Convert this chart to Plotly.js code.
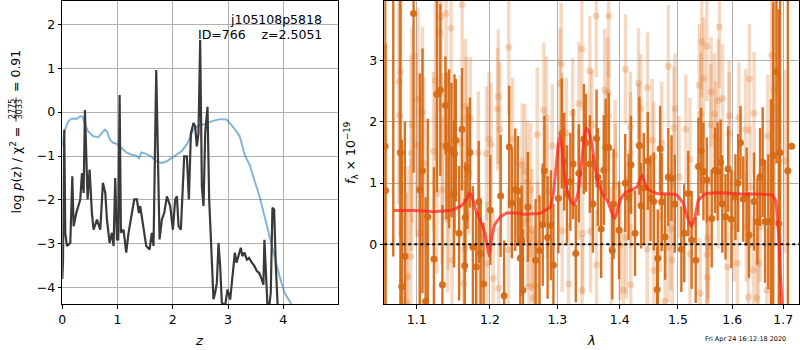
<!DOCTYPE html>
<html>
<head>
<meta charset="utf-8">
<script src="https://cdn.plot.ly/plotly-3.0.1.min.js"></script>
<style>
  html, body { margin: 0; padding: 0; background: #ffffff; }
  #chart { width: 800px; height: 350px; }
</style>
</head>
<body>
<div id="chart"></div>
<script>
// ---------------- Left panel: redshift PDF ----------------
const zGrid = [0.000, 0.012, 0.036, 0.054, 0.084, 0.145, 0.181, 0.205, 0.253, 0.325, 0.356, 0.386, 0.410, 0.434, 0.458, 0.494, 0.536, 0.566, 0.627, 0.687, 0.735, 0.778, 0.808, 0.856, 0.898, 0.928, 0.958, 0.989, 1.013, 1.037, 1.061, 1.109, 1.157, 1.199, 1.260, 1.302, 1.350, 1.386, 1.410, 1.471, 1.519, 1.579, 1.621, 1.651, 1.700, 1.760, 1.802, 1.844, 1.893, 1.953, 2.001, 2.043, 2.074, 2.104, 2.146, 2.206, 2.254, 2.291, 2.327, 2.375, 2.405, 2.435, 2.465, 2.495, 2.526, 2.556, 2.586, 2.628, 2.658, 2.682, 2.706, 2.736, 2.767, 2.797, 2.827, 2.857, 2.887, 2.948, 2.990, 3.038, 3.063, 3.092, 3.123, 3.153, 3.183, 3.230, 3.260, 3.297, 3.340, 3.380, 3.430, 3.478, 3.520, 3.562, 3.610, 3.640, 3.658, 3.680, 3.713, 3.743, 3.773, 3.803, 3.834, 3.864, 3.894, 3.920];
const logPz = [-3.80, -3.43, -0.40, -2.75, -3.05, -2.98, -1.46, -2.60, -2.30, -1.99, -1.39, -1.84, 0.05, -0.86, -1.99, -1.31, -2.30, -2.68, -2.45, -2.68, -1.61, -1.84, -2.45, -2.98, -2.75, -3.05, -1.50, -2.90, -2.90, 0.39, -2.75, -2.68, -3.20, -2.75, -2.30, -1.99, -1.99, -2.30, -2.14, -2.60, -3.05, -3.13, -2.75, -3.05, 0.96, -2.90, -2.45, -2.30, -1.92, -2.14, -2.68, -1.99, -1.92, -2.60, -2.68, -1.01, -1.01, -1.99, -0.48, -0.25, -0.33, -0.78, -0.48, 1.64, -1.69, -2.14, -0.48, 0.12, -1.99, -2.67, -3.28, -4.26, -4.11, -3.89, -2.98, -3.51, -4.34, -4.40, -4.04, -4.27, -3.96, -3.66, -3.20, -3.43, -3.28, -3.09, -3.28, -3.20, -3.36, -3.32, -3.43, -3.51, -3.62, -3.66, -3.81, -3.93, -2.91, -3.51, -4.40, -4.45, -4.11, -2.18, -2.22, -3.51, -4.40, -5.00];

const zChi = [0.000, 0.048, 0.108, 0.169, 0.260, 0.320, 0.367, 0.410, 0.470, 0.560, 0.650, 0.710, 0.770, 0.810, 0.860, 0.920, 0.980, 1.070, 1.160, 1.250, 1.340, 1.390, 1.430, 1.520, 1.610, 1.700, 1.800, 1.890, 1.980, 2.070, 2.160, 2.250, 2.310, 2.370, 2.460, 2.580, 2.700, 2.850, 2.970, 3.060, 3.150, 3.210, 3.260, 3.300, 3.390, 3.480, 3.570, 3.660, 3.750, 3.840, 3.930, 4.020, 4.130, 4.200];
const chi2Curve = [-0.78, -0.40, -0.21, -0.15, -0.15, -0.10, -0.10, -0.29, -0.44, -0.55, -0.57, -0.48, -0.40, -0.44, -0.63, -0.70, -0.72, -0.82, -0.92, -0.97, -0.99, -1.05, -0.92, -0.95, -1.01, -1.12, -1.16, -1.12, -1.05, -0.97, -0.89, -0.74, -0.59, -0.40, -0.31, -0.27, -0.21, -0.16, -0.17, -0.29, -0.44, -0.55, -0.78, -0.97, -1.20, -1.54, -1.92, -2.37, -2.83, -3.28, -3.73, -4.11, -4.34, -4.60];

const zTicks = [0, 1, 2, 3, 4];
const zTickText = ["0", "1", "2", "3", "4"];
const pTicks = [-4, -3, -2, -1, 0, 1, 2];
const pTickText = ["\u22124", "\u22123", "\u22122", "\u22121", "0", "1", "2"];

// ---------------- Right panel: 1D spectrum ----------------
const darkWave = [1.0595, 1.0600, 1.0698, 1.0789, 1.0807, 1.0846, 1.0959, 1.1041, 1.1076, 1.1117, 1.1145, 1.1227, 1.1267, 1.1313, 1.1341, 1.1382, 1.1395, 1.1431, 1.1464, 1.1498, 1.1505, 1.1523, 1.1568, 1.1609, 1.1645, 1.1655, 1.1682, 1.1718, 1.1759, 1.1805, 1.1841, 1.1868, 1.1909, 1.2005, 1.2153, 1.2203, 1.2277, 1.2316, 1.2366, 1.2405, 1.2440, 1.2460, 1.2479, 1.2553, 1.2668, 1.2727, 1.2776, 1.2801, 1.2850, 1.2900, 1.2939, 1.3015, 1.3069, 1.3106, 1.3149, 1.3202, 1.3245, 1.3287, 1.3335, 1.3415, 1.3447, 1.3511, 1.3559, 1.3619, 1.3640, 1.3694, 1.3736, 1.3768, 1.3816, 1.3876, 1.3897, 1.3988, 1.4091, 1.4147, 1.4187, 1.4256, 1.4331, 1.4359, 1.4405, 1.4474, 1.4520, 1.4577, 1.4635, 1.4646, 1.4687, 1.4715, 1.4773, 1.4830, 1.4887, 1.4945, 1.5062, 1.5113, 1.5186, 1.5247, 1.5321, 1.5370, 1.5419, 1.5462, 1.5523, 1.5615, 1.5677, 1.5725, 1.5780, 1.5812, 1.5872, 1.5922, 1.5983, 1.6060, 1.6113, 1.6158, 1.6211, 1.6276, 1.6322, 1.6420, 1.6485, 1.6537, 1.6589, 1.6635, 1.6700, 1.6753, 1.6798, 1.6863, 1.6909, 1.6935, 1.7092, 1.7170];
const darkFlux = [1.60, 0.88, 4.40, 1.50, -0.69, -0.20, 3.77, 0.89, 1.20, -0.93, 0.45, -0.24, 2.45, 2.52, -0.66, 2.27, 1.61, 1.56, 1.54, 0.82, 1.48, 1.70, 0.18, 1.88, -0.35, 0.44, 1.25, 1.50, -0.05, -0.37, 0.69, -0.15, -0.65, 0.56, 0.79, -0.84, 1.59, 0.67, 0.89, 0.87, -0.23, 0.06, -0.75, 0.61, -0.26, -0.10, 0.32, 1.20, 0.11, 0.31, -0.34, 0.75, 1.81, 1.35, 0.82, 1.02, 1.31, -0.15, 1.16, 1.72, 1.66, 1.31, 0.66, 1.73, 1.10, 0.25, 1.21, 1.58, 1.58, -0.10, 0.66, 0.23, 1.00, 0.77, 1.30, 0.18, 1.61, 0.63, 0.92, 1.36, 0.75, 0.70, -0.74, -0.23, 1.56, 0.69, 0.12, 1.10, 1.08, 0.66, -0.08, 0.18, 0.83, 0.07, -0.26, 1.27, 1.53, 1.19, 1.05, 0.42, 1.21, 1.19, 1.34, 0.66, 0.45, 1.23, 0.41, 0.77, 1.00, 1.66, 0.74, 0.78, 0.15, 0.70, 0.37, 1.10, 1.34, 0.37, 0.37, 0.37, 1.45, 2.82, 0.34, 1.50, 1.20, 1.60];
const darkErr = [3.50, 2.40, 4.60, 3.00, 2.40, 2.20, 2.60, 1.90, 2.00, 1.70, 1.60, 1.50, 1.60, 1.40, 1.30, 0.80, 1.20, 1.30, 1.10, 1.20, 1.30, 1.00, 1.10, 1.00, 1.10, 0.90, 1.00, 0.90, 1.00, 0.90, 1.00, 0.90, 1.00, 0.90, 1.00, 0.90, 1.00, 0.90, 1.00, 0.90, 1.00, 0.90, 1.00, 0.90, 1.00, 0.90, 1.00, 0.90, 1.00, 0.90, 1.00, 0.90, 0.90, 0.80, 0.80, 0.80, 0.90, 0.80, 0.80, 0.90, 0.80, 0.80, 0.80, 0.80, 0.80, 0.80, 0.90, 0.80, 0.90, 0.80, 0.90, 0.80, 0.80, 0.70, 0.80, 0.70, 0.80, 0.70, 0.90, 0.80, 0.70, 0.80, 0.70, 0.80, 0.70, 0.80, 0.70, 0.80, 0.70, 0.80, 0.70, 0.80, 0.70, 0.80, 0.70, 0.80, 0.70, 0.80, 0.70, 0.80, 0.70, 0.80, 0.70, 0.80, 0.70, 0.70, 0.80, 0.70, 0.80, 0.60, 0.70, 0.80, 0.70, 0.80, 0.70, 0.80, 0.90, 1.00, 1.10, 2.00, 2.50, 1.50, 3.50, 3.50, 4.00];

const lightWave = [1.0772, 1.0780, 1.0793, 1.0869, 1.0882, 1.0922, 1.0930, 1.0940, 1.0995, 1.1018, 1.1041, 1.1076, 1.1095, 1.1222, 1.1245, 1.1267, 1.1304, 1.1322, 1.1335, 1.1349, 1.1390, 1.1410, 1.1420, 1.1458, 1.1471, 1.1594, 1.1609, 1.1632, 1.1645, 1.1655, 1.1668, 1.1704, 1.1723, 1.1836, 1.1850, 1.1950, 1.1959, 1.1987, 1.2015, 1.2045, 1.2108, 1.2119, 1.2125, 1.2143, 1.2267, 1.2271, 1.2326, 1.2464, 1.2469, 1.2509, 1.2544, 1.2546, 1.2569, 1.2594, 1.2609, 1.2628, 1.2658, 1.2693, 1.2703, 1.2792, 1.2832, 1.2842, 1.2921, 1.3042, 1.3058, 1.3069, 1.3074, 1.3138, 1.3175, 1.3239, 1.3335, 1.3337, 1.3383, 1.3385, 1.3395, 1.3512, 1.3523, 1.3544, 1.3614, 1.3619, 1.3752, 1.3800, 1.3816, 1.3818, 1.3859, 1.3923, 1.3925, 1.4004, 1.4061, 1.4095, 1.4107, 1.4176, 1.4178, 1.4180, 1.4182, 1.4314, 1.4319, 1.4354, 1.4464, 1.4469, 1.4549, 1.4577, 1.4579, 1.4689, 1.4715, 1.4773, 1.4830, 1.4832, 1.4878, 1.4901, 1.4930, 1.4947, 1.5021, 1.5143, 1.5216, 1.5218, 1.5384, 1.5402, 1.5414, 1.5432, 1.5463, 1.5524, 1.5526, 1.5528, 1.5542, 1.5555, 1.5597, 1.5604, 1.5665, 1.5689, 1.5739, 1.5741, 1.5757, 1.5817, 1.5904, 1.5941, 1.5943, 1.6035, 1.6099, 1.6126, 1.6256, 1.6270, 1.6309, 1.6329, 1.6342, 1.6407, 1.6420, 1.6472, 1.6505, 1.6538, 1.6675, 1.6687, 1.6765, 1.6799, 1.6818, 1.7027];
const lightFlux = [2.66, 2.11, 2.82, -0.96, -0.53, -0.20, 1.49, 1.95, 1.62, 2.37, 0.18, 2.16, 1.32, 1.52, 2.67, 0.82, 3.46, 3.72, 0.89, 1.60, 3.77, 0.41, 0.78, 3.53, -0.26, 1.66, 3.91, -0.64, -0.07, 2.26, 2.07, 1.16, 2.06, 1.50, -0.03, 1.48, -0.31, 1.72, 1.64, -0.56, 2.21, 2.41, -0.72, 1.88, -0.09, 3.22, 1.72, 0.33, 1.30, 1.19, 1.02, 0.40, -0.69, 0.89, 0.23, -0.88, -0.68, 1.79, 0.02, 2.19, 2.07, 0.86, 1.61, 2.63, 2.95, 1.90, 0.22, 1.82, -0.65, 2.14, 2.30, 0.97, 3.19, -0.75, 0.18, 2.83, 0.21, 1.95, 3.73, -0.34, 2.52, 2.48, 3.73, 2.09, -0.07, 1.46, 0.97, -0.01, -0.75, 2.86, 0.11, 1.92, 1.49, 0.83, -0.66, 2.63, 1.63, 2.21, -0.08, 2.56, 1.70, 1.43, -0.43, 0.45, 1.65, -0.93, 2.91, -0.05, 0.25, -0.26, 1.90, 2.22, 1.10, 1.88, 1.39, -0.16, 2.60, -0.80, 2.13, 3.31, 2.71, 3.24, -0.17, -0.54, 0.11, -0.05, 1.95, 2.49, 2.13, 1.76, 2.35, 0.83, 3.55, 2.38, -0.37, 2.10, 1.81, 0.29, -0.31, 2.07, 1.87, 0.29, -0.86, 2.70, 0.93, -0.42, 2.14, -0.88, -0.31, 0.29, -0.75, 1.77, 3.09, 2.24, 2.53, 1.36];
const lightErr = [2.0, 2.0, 2.0, 1.8, 1.8, 1.6, 1.6, 1.6, 1.5, 1.5, 1.4, 1.4, 1.4, 1.3, 1.3, 1.3, 1.3, 1.3, 1.2, 1.2, 1.2, 1.2, 1.2, 1.2, 1.1, 1.1, 1.1, 1.1, 1.1, 1.1, 1.0, 1.0, 1.0, 1.0, 1.0, 1.1, 1.0, 1.1, 1.0, 1.1, 1.0, 1.1, 1.0, 1.1, 1.0, 1.1, 1.0, 1.1, 1.0, 1.1, 1.0, 1.1, 1.0, 1.1, 1.0, 1.1, 1.0, 1.1, 1.0, 1.1, 1.0, 1.1, 1.0, 0.9, 1.0, 0.9, 1.0, 0.9, 1.0, 0.9, 1.0, 0.9, 1.0, 0.9, 1.0, 0.9, 1.0, 0.9, 1.0, 0.9, 1.0, 0.9, 1.0, 0.9, 1.0, 0.9, 1.0, 0.9, 1.0, 0.9, 1.0, 0.9, 1.0, 0.9, 1.0, 0.9, 1.0, 0.9, 1.0, 0.9, 1.0, 0.9, 1.0, 0.9, 1.0, 0.9, 1.0, 0.9, 1.0, 0.9, 1.0, 0.9, 1.0, 0.9, 1.0, 0.9, 1.0, 0.9, 1.0, 0.9, 1.0, 0.9, 1.0, 0.9, 1.0, 0.9, 1.0, 0.9, 1.0, 0.9, 1.0, 0.9, 1.0, 0.9, 1.0, 0.9, 1.0, 0.9, 1.0, 0.9, 1.0, 0.9, 1.0, 0.9, 1.0, 0.9, 1.0, 0.9, 1.0, 0.9, 1.0, 1.0, 1.5, 2.0, 2.5, 1.5];

const modelWave = [1.0702, 1.0995, 1.1223, 1.1473, 1.1609, 1.1678, 1.1714, 1.1746, 1.1792, 1.1860, 1.1928, 1.1964, 1.1987, 1.2019, 1.2069, 1.2143, 1.2241, 1.2390, 1.2489, 1.2741, 1.2890, 1.2939, 1.2980, 1.3015, 1.3042, 1.3069, 1.3095, 1.3149, 1.3202, 1.3255, 1.3309, 1.3362, 1.3415, 1.3453, 1.3495, 1.3549, 1.3603, 1.3656, 1.3726, 1.3800, 1.3870, 1.3912, 1.3950, 1.4004, 1.4090, 1.4205, 1.4291, 1.4336, 1.4377, 1.4417, 1.4491, 1.4635, 1.4973, 1.5094, 1.5186, 1.5247, 1.5309, 1.5370, 1.5492, 1.5738, 1.6243, 1.6765, 1.6843, 1.6882, 1.6916, 1.6941, 1.6974, 1.6995];
const modelFlux = [0.55, 0.55, 0.53, 0.56, 0.64, 0.75, 0.84, 0.78, 0.59, 0.40, 0.18, -0.04, -0.19, 0.07, 0.32, 0.44, 0.51, 0.51, 0.49, 0.51, 0.61, 0.83, 1.27, 1.65, 1.76, 1.60, 1.27, 0.89, 0.72, 0.64, 0.78, 1.16, 1.70, 1.91, 1.84, 1.60, 1.21, 0.97, 0.81, 0.70, 0.51, 0.42, 0.51, 0.72, 0.84, 0.89, 0.94, 1.05, 1.13, 1.02, 0.89, 0.83, 0.81, 0.67, 0.40, 0.29, 0.45, 0.72, 0.82, 0.84, 0.82, 0.81, 0.72, 0.45, 0.02, -0.47, -0.96, -2.00];

const lamTicks = [1.1, 1.2, 1.3, 1.4, 1.5, 1.6, 1.7];
const lamTickText = ["1.1", "1.2", "1.3", "1.4", "1.5", "1.6", "1.7"];
const fTicks = [0, 1, 2, 3];
const fTickText = ["0", "1", "2", "3"];

// ---------------- styling ----------------
const FONT = "DejaVu Sans, Verdana, sans-serif";
const W = 800, H = 350;
const px = v => v / W;
const py = v => 1 - v / H;

const darkC = "rgba(214,106,22,0.95)";
const lightC = "rgba(222,120,40,0.28)";

const traces = [
  { x: zChi, y: chi2Curve, xaxis: "x", yaxis: "y", type: "scatter", mode: "lines",
    line: { color: "rgba(31,119,180,0.55)", width: 2 }, hoverinfo: "skip" },
  { x: zGrid, y: logPz, xaxis: "x", yaxis: "y", type: "scatter", mode: "lines",
    line: { color: "#3a3a3a", width: 2.2 }, hoverinfo: "skip" },
  { x: lightWave, y: lightFlux, xaxis: "x2", yaxis: "y2", type: "scatter", mode: "markers",
    marker: { color: lightC, size: 7, line: { width: 0 } },
    error_y: { type: "data", array: lightErr, visible: true, color: lightC, thickness: 3.5, width: 0 },
    hoverinfo: "skip" },
  { x: darkWave, y: darkFlux, xaxis: "x2", yaxis: "y2", type: "scatter", mode: "markers",
    marker: { color: darkC, size: 7, line: { width: 0 } },
    error_y: { type: "data", array: darkErr, visible: true, color: darkC, thickness: 2.4, width: 0 },
    hoverinfo: "skip" },
  { x: modelWave, y: modelFlux, xaxis: "x2", yaxis: "y2", type: "scatter", mode: "lines",
    line: { color: "rgba(255,35,30,0.72)", width: 3, shape: "spline", smoothing: 0.3 }, hoverinfo: "skip" }
];

const axisCommon = {
  showline: true, mirror: true, linecolor: "#000000", linewidth: 1,
  ticks: "outside", ticklen: 3.5, tickwidth: 1, tickcolor: "#000000",
  showgrid: true, gridcolor: "#b0b0b0", gridwidth: 1, zeroline: false,
  tickfont: { family: FONT, size: 12.5, color: "#000000" }, tickmode: "array"
};

const layout = {
  width: W, height: H,
  margin: { l: 0, r: 0, t: 0, b: 0 },
  paper_bgcolor: "#ffffff", plot_bgcolor: "#ffffff",
  showlegend: false,
  font: { family: FONT, size: 12.5, color: "#000000" },
  xaxis: Object.assign({}, axisCommon, {
    domain: [px(62.3), px(338.3)], range: [0, 4.995], anchor: "y",
    tickvals: zTicks, ticktext: zTickText
  }),
  yaxis: Object.assign({}, axisCommon, {
    domain: [py(304), py(1)], range: [-4.371, 2.531], anchor: "x",
    tickvals: pTicks, ticktext: pTickText
  }),
  xaxis2: Object.assign({}, axisCommon, {
    domain: [px(384.3), px(799.3)], type: "log", range: [0.024683, 0.238701], anchor: "y2",
    tickvals: lamTicks, ticktext: lamTickText
  }),
  yaxis2: Object.assign({}, axisCommon, {
    domain: [py(304), py(1)], range: [-0.976, 3.975], anchor: "x2",
    tickvals: fTicks, ticktext: fTickText
  }),
  shapes: [
    { type: "line", xref: "x2 domain", x0: 0, x1: 1, yref: "y2", y0: 0, y1: 0,
      line: { color: "#000000", width: 2, dash: "dot" }, layer: "above" },
    // fraction bar of the rotated y-axis label
    { type: "line", xref: "paper", yref: "paper", x0: px(16), x1: px(16), y0: py(97.5), y1: py(121.5),
      line: { color: "#000000", width: 0.8 } }
  ],
  annotations: [
    { xref: "paper", yref: "paper", x: px(323.5), y: py(19.5), xanchor: "right", yanchor: "middle",
      text: "j105108p5818", showarrow: false, font: { family: FONT, size: 12.5 } },
    { xref: "paper", yref: "paper", x: px(323.5), y: py(35), xanchor: "right", yanchor: "middle",
      text: "ID=766\u00a0\u00a0\u00a0\u00a0z=2.5051", showarrow: false, font: { family: FONT, size: 12.5 } },
    // left y-axis label, built from pieces so that the fraction can be stacked
    { xref: "paper", yref: "paper", x: px(15), y: py(125), xanchor: "center", yanchor: "top",
      textangle: -90, showarrow: false, font: { family: FONT, size: 12.5, color: "#000000" },
      text: "log <i>p</i>(z) / \u03c7<sup>2</sup> =" },
    { xref: "paper", yref: "paper", x: px(12.5), y: py(109.5), xanchor: "center", yanchor: "middle",
      textangle: -90, showarrow: false, font: { family: FONT, size: 8, color: "#000000" },
      text: "2775" },
    { xref: "paper", yref: "paper", x: px(19.8), y: py(109.5), xanchor: "center", yanchor: "middle",
      textangle: -90, showarrow: false, font: { family: FONT, size: 8, color: "#000000" },
      text: "3033" },
    { xref: "paper", yref: "paper", x: px(15), y: py(94), xanchor: "center", yanchor: "bottom",
      textangle: -90, showarrow: false, font: { family: FONT, size: 12.5, color: "#000000" },
      text: "= 0.91" },
    { xref: "paper", yref: "paper", x: px(351), y: py(153), xanchor: "center", yanchor: "middle",
      textangle: -90, showarrow: false, font: { family: FONT, size: 12.5 },
      text: "<i>f</i><sub>\u03bb</sub> \u00d7 10<sup>\u221219</sup>" },
    { xref: "paper", yref: "paper", x: px(199.5), y: py(340), xanchor: "center", yanchor: "middle",
      showarrow: false, font: { family: FONT, size: 13 }, text: "<i>z</i>" },
    { xref: "paper", yref: "paper", x: px(591.5), y: py(340), xanchor: "center", yanchor: "middle",
      showarrow: false, font: { family: FONT, size: 13 }, text: "<i>\u03bb</i>" },
    { xref: "paper", yref: "paper", x: px(788), y: py(339), xanchor: "right", yanchor: "middle",
      showarrow: false, font: { family: FONT, size: 6.5 }, text: "Fri Apr 24 16:12:18 2020" }
  ]
};

Plotly.newPlot("chart", traces, layout, { staticPlot: true, displayModeBar: false });
</script>
</body>
</html>
